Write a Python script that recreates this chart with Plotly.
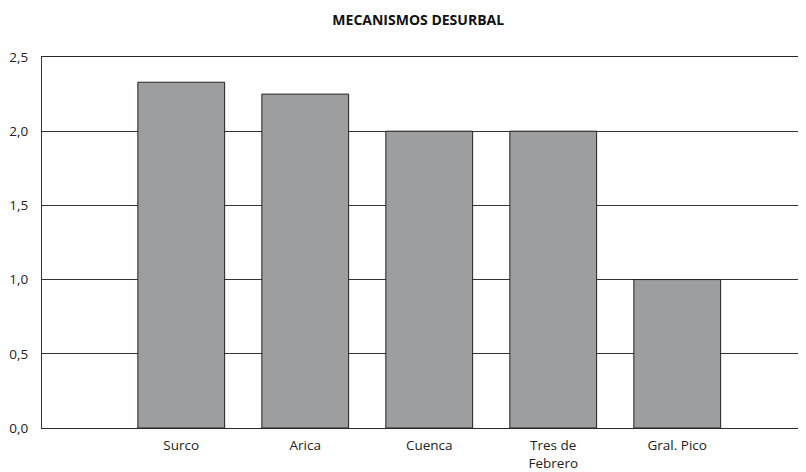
import plotly.graph_objects as go

categorias = ["Surco", "Arica", "Cuenca", "Tres de<br>Febrero", "Gral. Pico"]
valores = [2.33, 2.25, 2.0, 2.0, 1.0]
y_ticks = [0, 0.5, 1.0, 1.5, 2.0, 2.5]

fig = go.Figure()
fig.add_trace(go.Bar(x=categorias, y=valores,
                     marker=dict(color="#9d9ea0", line=dict(color="#222222", width=1)),
                     width=0.7))

# the page body adds an 8px offset, so margins are trimmed to compensate
fig.update_layout(
    width=806, height=472,
    margin=dict(l=34, r=0, t=49, b=52),
    paper_bgcolor="white", plot_bgcolor="white",
    separators=",.",
    showlegend=False,
    font=dict(family="Open Sans", size=13.5, color="#222222"),
    title=dict(text="<b>MECANISMOS DESURBAL</b>", x=0.509, xanchor="center",
               y=0.975, yanchor="middle", font=dict(size=14, color="#111111")),
)
# mirrored x line gives the top border at 2,5
fig.update_xaxes(type="category", range=[-1.123, 5.103], showgrid=False,
                 showline=True, mirror=True, linecolor="#2a2a2a", linewidth=1.2,
                 ticks="", automargin=False, ticklabelstandoff=5,
                 tickfont=dict(size=13.5))
fig.update_yaxes(range=[0, 2.5], tickvals=y_ticks, tickformat=".1f",
                 showgrid=True, gridcolor="#333333", gridwidth=1,
                 showline=True, linecolor="#333333", linewidth=1,
                 zeroline=False, ticks="", ticklabelstandoff=10,
                 automargin=False,
                 tickfont=dict(size=13.5))

fig.write_html("out.html")
